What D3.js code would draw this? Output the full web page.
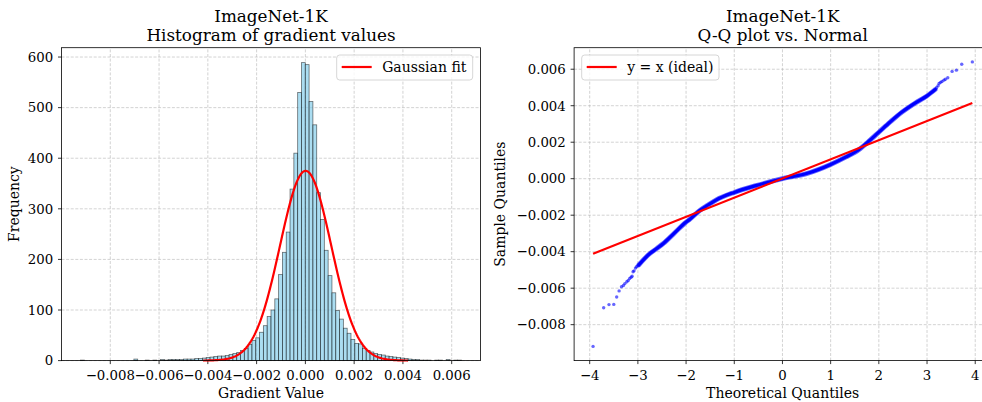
<!DOCTYPE html>
<html>
<head>
<meta charset="utf-8">
<script src="https://cdn.jsdelivr.net/npm/d3@7"></script>
<style>
  body { margin: 0; background: #fff; }
  svg { display: block; font-family: "DejaVu Serif", serif; }
</style>
</head>
<body>
<div id="chart"></div>
<script>
// ------------------------------------------------------------
// 1. Data
// ------------------------------------------------------------
// histogram: 100 equal bins between the smallest and largest gradient
const histMin = -0.00922;
const histMax = 0.00640;
const histCounts = [
  1, 0, 0, 0, 0, 0, 0, 0, 0, 0,
  0, 0, 0, 0, 3, 0, 0, 1, 0, 1,
  0, 2, 1, 2, 2, 2, 2, 3, 3, 3,
  4, 4, 5, 6, 7, 8, 9, 9, 10, 12,
  14, 16, 20, 24, 32, 40, 45, 56, 69, 87,
  100, 122, 170, 214, 254, 339, 410, 530, 589, 585,
  512, 466, 332, 279, 218, 168, 134, 99, 82, 64,
  54, 42, 34, 33, 24, 20, 17, 14, 12, 11,
  9, 8, 7, 6, 5, 4, 3, 2, 2, 1,
  1, 1, 0, 1, 1, 0, 2, 0, 1, 1
];
const histXTicks = [-0.008, -0.006, -0.004, -0.002, 0, 0.002, 0.004, 0.006];
const histYTicks = [0, 100, 200, 300, 400, 500, 600];

// gaussian fit (mean, std, height of the fitted curve in counts)
const fitMu = 0.00001;
const fitSigma = 0.00105;
const fitPeak = 375;

// Q-Q plot: dense middle band of points
const qqBandTheo = [-2.98, -2.75, -2.61, -2.47, -2.25, -2.0, -1.92, -1.72, -1.58, -1.38,
  -1.0, -0.55, 0, 0.5, 1.0, 1.31, 1.59, 1.79, 2.0, 2.24, 2.48, 2.75, 3.0, 3.17];
const qqBandSample = [-0.00472, -0.00410, -0.00383, -0.00355, -0.00300, -0.00238, -0.00222,
  -0.00175, -0.00150, -0.00117, -0.00075, -0.00038, 0.0, 0.00028, 0.00078, 0.00118,
  0.00160, 0.00205, 0.00255, 0.00312, 0.00365, 0.00414, 0.00454, 0.00489];
// Q-Q plot: separate points in both tails
const qqTailTheo = [-3.93, -3.71, -3.60, -3.50, -3.44, -3.39, -3.34, -3.30, -3.27, -3.23,
  -3.20, -3.17, -3.14, -3.12, -3.10, -3.08, -3.05, -3.03, -3.00,
  3.20, 3.23, 3.25, 3.28, 3.31, 3.35, 3.38, 3.43, 3.52, 3.61, 3.72, 3.94];
const qqTailSample = [-0.00919, -0.00707, -0.00690, -0.00689, -0.00648, -0.00615, -0.00592,
  -0.00585, -0.00575, -0.00565, -0.00558, -0.00547, -0.00540, -0.00535, -0.00510,
  -0.00505, -0.00490, -0.00483, -0.00478,
  0.00500, 0.00510, 0.00522, 0.00528, 0.00533, 0.00540, 0.00545, 0.00553, 0.00588,
  0.00595, 0.00627, 0.00640];
const qqXTicks = [-4, -3, -2, -1, 0, 1, 2, 3, 4];
const qqYTicks = [-0.008, -0.006, -0.004, -0.002, 0, 0.002, 0.004, 0.006];

// ------------------------------------------------------------
// 2. Layout
// ------------------------------------------------------------
const width = 982;
const height = 402;
const plotTop = 47.7;
const plotBottom = 360.6;
const histLeft = 61.5, histRight = 480.5;
const qqLeft = 574.1, qqRight = 991.3;

const tickFont = 13.3;
const labelFont = 14;
const titleFont = 16.8;
const gridColor = "#b0b0b0";

const svg = d3
  .select("#chart")
  .append("svg")
  .attr("width", width)
  .attr("height", height);

svg.append("rect").attr("width", width).attr("height", height).attr("fill", "#fff");

// padded extent like matplotlib's 5% margins
function padded(lo, hi) {
  const m = (hi - lo) * 0.05;
  return [lo - m, hi + m];
}

// grid, ticks, labels and titles for one panel
function drawFrame(g, x, y, xTicks, yTicks, xFmt, yFmt, xLabel, yLabel, yLabelX, title) {
  const [x0, x1] = x.range();
  const [y0, y1] = y.range();

  const grid = g.append("g").attr("class", "grid");
  grid.selectAll("line.gx").data(xTicks).join("line")
    .attr("x1", d => x(d)).attr("x2", d => x(d))
    .attr("y1", y0).attr("y2", y1)
    .attr("stroke", gridColor).attr("stroke-opacity", 0.7)
    .attr("stroke-width", 0.8).attr("stroke-dasharray", "3,1.6");
  grid.selectAll("line.gy").data(yTicks).join("line")
    .attr("class", "gy")
    .attr("x1", x0).attr("x2", x1)
    .attr("y1", d => y(d)).attr("y2", d => y(d))
    .attr("stroke", gridColor).attr("stroke-opacity", 0.7)
    .attr("stroke-width", 0.8).attr("stroke-dasharray", "3,1.6");

  const axes = g.append("g").attr("class", "axes");
  // x ticks
  axes.selectAll("line.tx").data(xTicks).join("line")
    .attr("x1", d => x(d)).attr("x2", d => x(d))
    .attr("y1", y0).attr("y2", y0 + 3.5)
    .attr("stroke", "#000").attr("stroke-width", 0.8);
  axes.selectAll("text.tx").data(xTicks).join("text")
    .attr("x", d => x(d)).attr("y", y0 + 18.9)
    .attr("text-anchor", "middle").attr("font-size", tickFont)
    .text(xFmt);
  // y ticks
  axes.selectAll("line.ty").data(yTicks).join("line")
    .attr("class", "ty")
    .attr("x1", x0 - 3.5).attr("x2", x0)
    .attr("y1", d => y(d)).attr("y2", d => y(d))
    .attr("stroke", "#000").attr("stroke-width", 0.8);
  axes.selectAll("text.ty").data(yTicks).join("text")
    .attr("class", "ty")
    .attr("x", x0 - 8.3).attr("y", d => y(d) + tickFont * 0.36)
    .attr("text-anchor", "end").attr("font-size", tickFont)
    .text(yFmt);

  // axis labels (x label centred on the axes, even when clipped by the page edge)
  axes.append("text")
    .attr("x", (x0 + x1) / 2)
    .attr("y", 397.5)
    .attr("text-anchor", "middle").attr("font-size", labelFont)
    .text(xLabel);
  axes.append("text")
    .attr("transform", `translate(${yLabelX}, ${(y0 + y1) / 2}) rotate(-90)`)
    .attr("text-anchor", "middle").attr("font-size", labelFont)
    .text(yLabel);

  // title, two lines
  const cx = (x0 + x1) / 2;
  axes.append("text").attr("x", cx).attr("y", 22.3)
    .attr("text-anchor", "middle").attr("font-size", titleFont).text(title[0]);
  axes.append("text").attr("x", cx).attr("y", 40.7)
    .attr("text-anchor", "middle").attr("font-size", titleFont).text(title[1]);
}

function drawSpines(g, x, y) {
  const [x0, x1] = x.range();
  const [y0, y1] = y.range();
  g.append("rect")
    .attr("x", x0).attr("y", y1)
    .attr("width", x1 - x0).attr("height", y0 - y1)
    .attr("fill", "none").attr("stroke", "#000").attr("stroke-width", 0.8);
}

function drawLegend(g, bx, by, bw, label) {
  const lg = g.append("g");
  lg.append("rect")
    .attr("x", bx).attr("y", by).attr("width", bw).attr("height", 25)
    .attr("rx", 3).attr("fill", "#fff").attr("fill-opacity", 0.8)
    .attr("stroke", "#cccccc").attr("stroke-width", 0.8);
  lg.append("line")
    .attr("x1", bx + 5).attr("x2", bx + 35)
    .attr("y1", by + 12).attr("y2", by + 12)
    .attr("stroke", "red").attr("stroke-width", 2.2);
  lg.append("text")
    .attr("x", bx + 45.5).attr("y", by + 17)
    .attr("font-size", labelFont).text(label);
}

const fmt3 = d3.format(".3f");

// ------------------------------------------------------------
// 3. Histogram with gaussian fit
// ------------------------------------------------------------
const binWidth = (histMax - histMin) / histCounts.length;
const bins = histCounts.map((c, i) => ({
  x0: histMin + i * binWidth,
  x1: histMin + (i + 1) * binWidth,
  count: c
}));

const hx = d3.scaleLinear().domain(padded(histMin, histMax)).range([histLeft, histRight]);
const hy = d3.scaleLinear().domain([0, d3.max(histCounts) * 1.05]).range([plotBottom, plotTop]);

const histG = svg.append("g");
drawFrame(histG, hx, hy, histXTicks, histYTicks, fmt3, d3.format("d"),
  "Gradient Value", "Frequency", 18.5, ["ImageNet-1K", "Histogram of gradient values"]);

histG.append("g")
  .selectAll("rect")
  .data(bins.filter(b => b.count > 0))
  .join("rect")
  .attr("x", d => hx(d.x0))
  .attr("width", d => hx(d.x1) - hx(d.x0))
  .attr("y", d => hy(d.count))
  .attr("height", d => hy(0) - hy(d.count))
  .attr("fill", "skyblue")
  .attr("fill-opacity", 0.7)
  .attr("stroke", "#000")
  .attr("stroke-opacity", 0.55)
  .attr("stroke-width", 0.8);

// fitted curve over mean +/- 4 std
const fitXs = d3.range(0, 201).map(i => fitMu - 4 * fitSigma + i * (8 * fitSigma / 200));
const fitLine = d3.line()
  .x(d => hx(d))
  .y(d => hy(fitPeak * Math.exp(-0.5 * ((d - fitMu) / fitSigma) ** 2)));
histG.append("path")
  .datum(fitXs)
  .attr("d", fitLine)
  .attr("fill", "none")
  .attr("stroke", "red")
  .attr("stroke-width", 2.2);

drawSpines(histG, hx, hy);
drawLegend(histG, 336.7, 55, 136, "Gaussian fit");

// ------------------------------------------------------------
// 4. Q-Q plot vs normal
// ------------------------------------------------------------
const allTheo = qqBandTheo.concat(qqTailTheo);
const allSample = qqBandSample.concat(qqTailSample);

const qx = d3.scaleLinear().domain(padded(d3.min(allTheo), d3.max(allTheo))).range([qqLeft, qqRight]);
const qy = d3.scaleLinear().domain(padded(d3.min(allSample), d3.max(allSample))).range([plotBottom, plotTop]);

const qqG = svg.append("g");
drawFrame(qqG, qx, qy, qqXTicks, qqYTicks, d3.format("d"), fmt3,
  "Theoretical Quantiles", "Sample Quantiles", 504.5, ["ImageNet-1K", "Q-Q plot vs. Normal"]);

const band = qqBandTheo.map((t, i) => [t, qqBandSample[i]]);
const bandLine = d3.line()
  .curve(d3.curveMonotoneX)
  .x(d => qx(d[0]))
  .y(d => qy(d[1]));

qqG.append("path")
  .datum(band)
  .attr("d", bandLine)
  .attr("fill", "none")
  .attr("stroke", "blue")
  .attr("stroke-opacity", 0.6)
  .attr("stroke-width", 4.8)
  .attr("stroke-linecap", "round");
qqG.append("path")
  .datum(band)
  .attr("d", bandLine)
  .attr("fill", "none")
  .attr("stroke", "blue")
  .attr("stroke-width", 3.2)
  .attr("stroke-linecap", "round");

qqG.append("g")
  .selectAll("circle")
  .data(qqTailTheo.map((t, i) => [t, qqTailSample[i]]))
  .join("circle")
  .attr("cx", d => qx(d[0]))
  .attr("cy", d => qy(d[1]))
  .attr("r", 1.7)
  .attr("fill", "blue")
  .attr("fill-opacity", 0.6);

// reference line: mean + std * z over the theoretical range
const refEnds = d3.extent(allTheo);
qqG.append("line")
  .attr("x1", qx(refEnds[0])).attr("y1", qy(fitMu + fitSigma * refEnds[0]))
  .attr("x2", qx(refEnds[1])).attr("y2", qy(fitMu + fitSigma * refEnds[1]))
  .attr("stroke", "red")
  .attr("stroke-width", 2.2);

drawSpines(qqG, qx, qy);
drawLegend(qqG, 581.7, 55, 137.3, "y = x (ideal)");
</script>
</body>
</html>
